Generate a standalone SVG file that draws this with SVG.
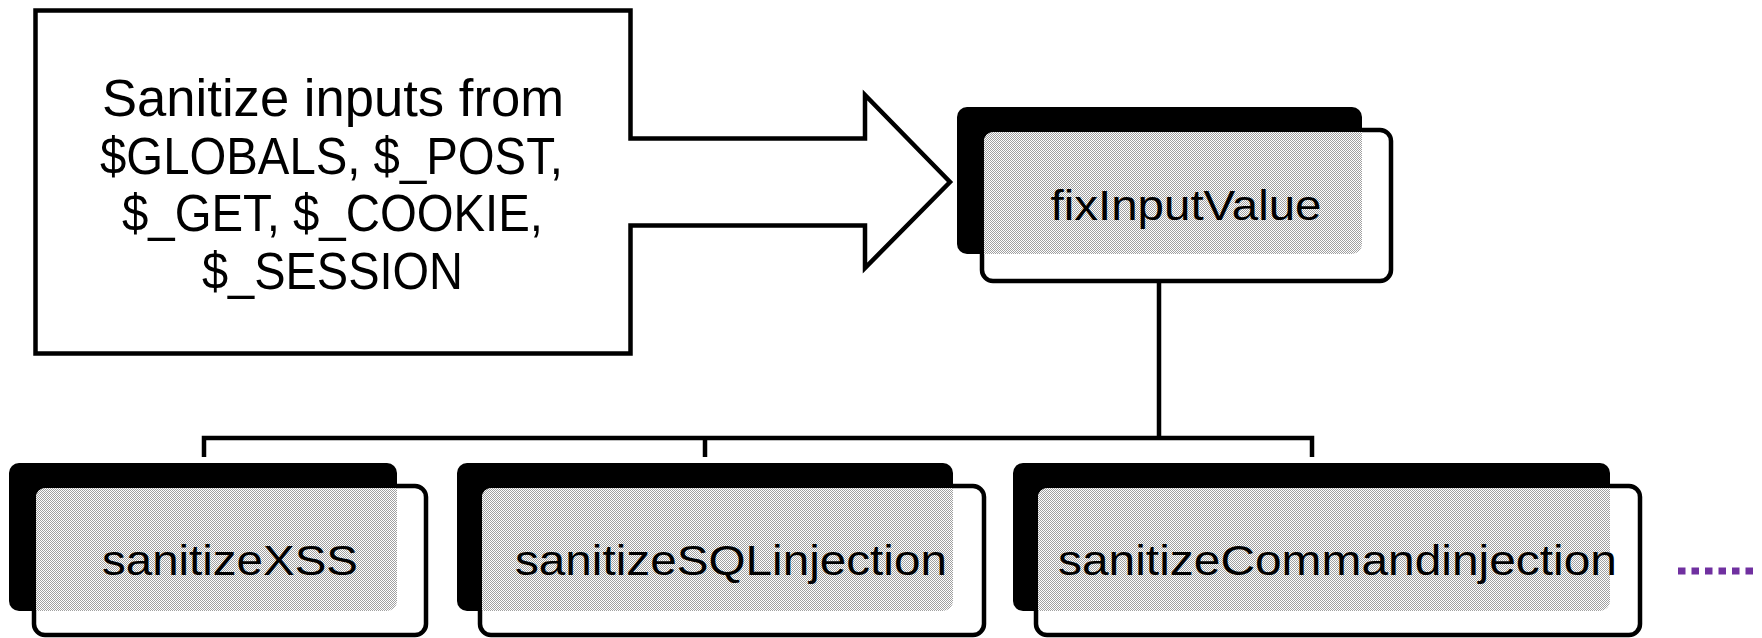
<svg xmlns="http://www.w3.org/2000/svg" width="1762" height="638" viewBox="0 0 1762 638">
<style>
.back{fill:#000}
.front{fill:#fff;stroke:#000;stroke-width:4.5}
.lbl{font-family:"Liberation Sans",Arial,Helvetica,sans-serif;font-size:43px;fill:#000;text-anchor:middle}
.call{font-family:"Liberation Sans",Arial,Helvetica,sans-serif;font-size:51px;fill:#000;text-anchor:middle}
.conn{fill:none;stroke:#000;stroke-width:4.5;stroke-linejoin:miter}
</style>
<defs>
<pattern id="dots" patternUnits="userSpaceOnUse" width="2" height="2">
<rect x="0" y="0" width="2" height="2" fill="#ffffff" shape-rendering="crispEdges"/>
<rect x="0" y="0" width="1" height="1" fill="#a0a0a0" shape-rendering="crispEdges"/>
<rect x="1" y="1" width="1" height="1" fill="#a0a0a0" shape-rendering="crispEdges"/>
</pattern>
<clipPath id="cFix"><rect x="984" y="132" width="405" height="147" rx="9"/></clipPath>
<clipPath id="c1"><rect x="36" y="488" width="388" height="145" rx="9"/></clipPath>
<clipPath id="c2"><rect x="482" y="488" width="500" height="145" rx="9"/></clipPath>
<clipPath id="c3"><rect x="1038" y="488" width="600" height="145" rx="9"/></clipPath>
</defs>

<g id="callout">
<path d="M35.5,10.5 H630.5 V138.5 H865 V95 L950,182 L865,268 V225.5 H630.5 V353.5 H35.5 Z" fill="#fff" stroke="#000" stroke-width="4.5" stroke-linejoin="miter"/>
<text class="call" x="333" y="116" textLength="462" lengthAdjust="spacingAndGlyphs">Sanitize inputs from</text>
<text class="call" x="331.5" y="173.5" textLength="463" lengthAdjust="spacingAndGlyphs">$GLOBALS, $_POST,</text>
<text class="call" x="332.5" y="231" textLength="421" lengthAdjust="spacingAndGlyphs">$_GET, $_COOKIE,</text>
<text class="call" x="332.5" y="288.5" textLength="261" lengthAdjust="spacingAndGlyphs">$_SESSION</text>
</g>

<g id="connectors">
<line x1="1159" y1="256" x2="1159" y2="283" stroke="url(#dots)" stroke-width="4"/>
<path class="conn" d="M1159,283 V438"/>
<path class="conn" d="M204,457 V438 H1312 V457"/>
<path class="conn" d="M705,438 V457"/>
</g>

<g id="fixInputValue">
<rect class="back" x="957" y="107" width="405" height="147" rx="10"/>
<rect class="front" x="982" y="130" width="409" height="151" rx="11"/>
<rect x="957" y="107" width="405" height="147" rx="10" fill="url(#dots)" clip-path="url(#cFix)"/>
<text class="lbl" x="1186" y="220" textLength="271" lengthAdjust="spacingAndGlyphs">fixInputValue</text>
</g>

<g id="sanitizeXSS">
<rect class="back" x="9" y="463" width="388" height="148" rx="10"/>
<rect class="front" x="34" y="486" width="392" height="149" rx="11"/>
<rect x="9" y="463" width="388" height="148" rx="10" fill="url(#dots)" clip-path="url(#c1)"/>
<text class="lbl" x="230" y="575" textLength="256" lengthAdjust="spacingAndGlyphs">sanitizeXSS</text>
</g>

<g id="sanitizeSQLinjection">
<rect class="back" x="457" y="463" width="496" height="148" rx="10"/>
<rect class="front" x="480" y="486" width="504" height="149" rx="11"/>
<rect x="457" y="463" width="496" height="148" rx="10" fill="url(#dots)" clip-path="url(#c2)"/>
<text class="lbl" x="731" y="575" textLength="432" lengthAdjust="spacingAndGlyphs">sanitizeSQLinjection</text>
</g>

<g id="sanitizeCommandinjection">
<rect class="back" x="1013" y="463" width="597" height="148" rx="10"/>
<rect class="front" x="1036" y="486" width="604" height="149" rx="11"/>
<rect x="1013" y="463" width="597" height="148" rx="10" fill="url(#dots)" clip-path="url(#c3)"/>
<text class="lbl" x="1337.5" y="575" textLength="559" lengthAdjust="spacingAndGlyphs">sanitizeCommandinjection</text>
</g>

<g id="more">
<path d="M1678,571 H1753" fill="none" stroke="#7030A0" stroke-width="7" stroke-dasharray="7.5 6"/>
</g>
</svg>
